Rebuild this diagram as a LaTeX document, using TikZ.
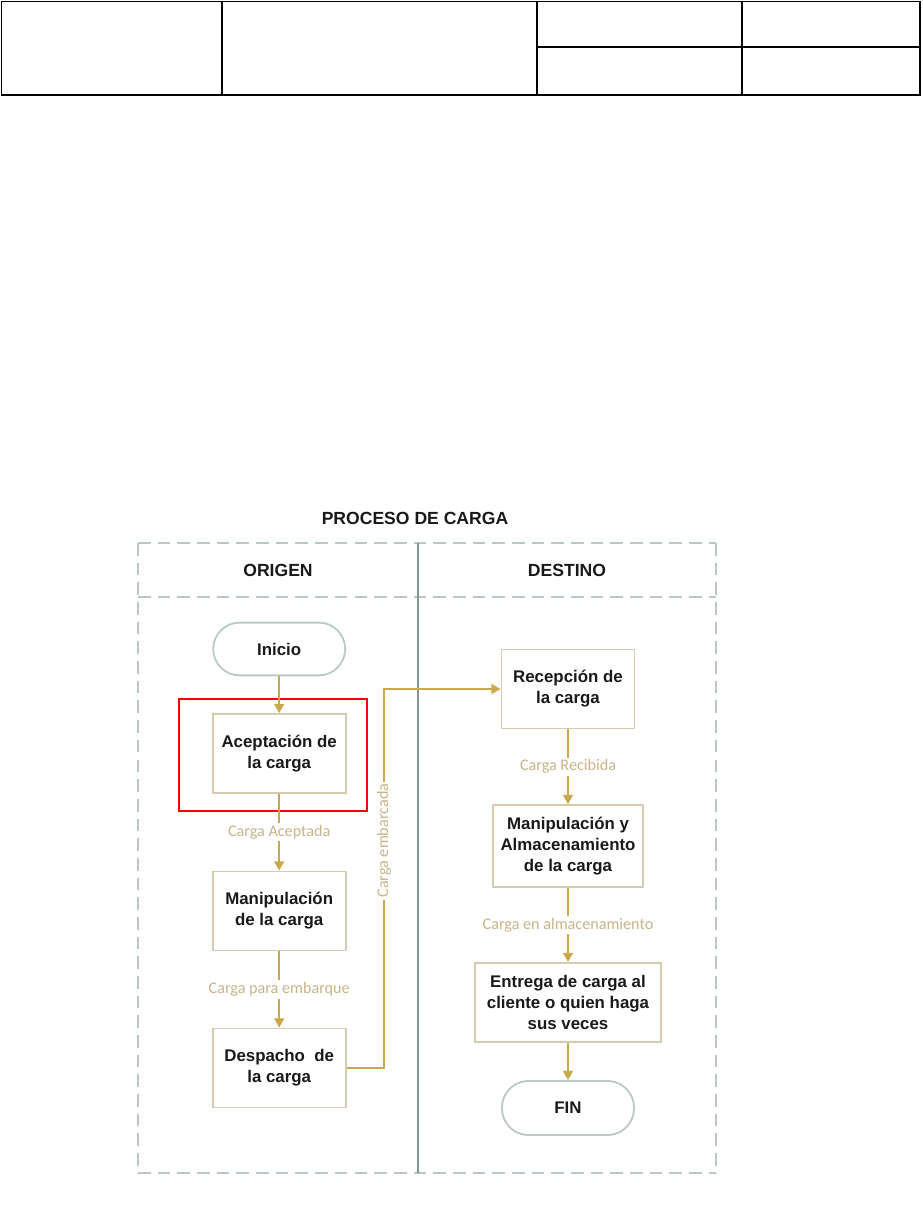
\documentclass[tikz,border=0pt]{standalone}
\usepackage{fontspec}
\setmainfont{Liberation Sans}
\newfontfamily\lblfont{Carlito}
\usepackage{tikz}
\usetikzlibrary{arrows.meta,positioning,calc}

\definecolor{flowgold}{RGB}{201,169,76}
\definecolor{lbltan}{RGB}{200,180,138}
\definecolor{boxtan}{RGB}{214,203,172}
\definecolor{lanegray}{RGB}{184,200,196}
\definecolor{divgray}{RGB}{128,150,144}
\definecolor{termgray}{RGB}{186,202,198}

\begin{document}
\begin{tikzpicture}[
  font=\rmfamily,
  line cap=butt, line join=miter,
  >={Triangle[length=6.5pt,width=7pt]},
  proc/.style={
    rectangle, draw=boxtan, line width=1.3pt,
    minimum width=3.325cm, minimum height=1.975cm,
    align=center, inner sep=2pt,
    font=\rmfamily\bfseries\fontsize{12}{15}\selectfont, text=black!90
  },
  term/.style={
    rectangle, rounded corners=0.66cm, draw=termgray, line width=1.3pt,
    minimum width=3.3cm, minimum height=1.32cm,
    align=center, font=\rmfamily\bfseries\fontsize{12}{15}\selectfont, text=black!90
  },
  flow/.style={->, line width=1.3pt, draw=flowgold},
  edgelbl/.style={font=\lblfont\fontsize{11.5}{13}\selectfont, fill=white, inner sep=1.5pt, text=lbltan},
  lanedash/.style={draw=lanegray, line width=1.3pt, dash pattern=on 9pt off 5pt},
  lanehead/.style={font=\rmfamily\bfseries\fontsize{12.5}{15}\selectfont, text=black!90}
]
\useasboundingbox (0,0) rectangle (23.05,-30.2);

% =========================================================================
% Encabezado (tabla vacía)
% =========================================================================
\draw[line width=0.9pt] (0.03,-0.03) rectangle (23.0,-2.375);
\draw[line width=0.9pt] (5.55,-0.03) -- (5.55,-2.375);
\draw[line width=0.9pt] (13.425,-0.03) -- (13.425,-2.375);
\draw[line width=0.9pt] (18.55,-0.03) -- (18.55,-2.375);
\draw[line width=0.9pt] (13.425,-1.175) -- (23.0,-1.175);

% =========================================================================
% Piscina y carriles
% =========================================================================
\node[lanehead] (titulo) at (10.375,-12.95) {PROCESO DE CARGA};

\draw[lanedash] (3.45,-13.575) -- (17.9,-13.575);
\draw[lanedash] (3.45,-14.925) -- (17.9,-14.925);
\draw[lanedash] (3.45,-13.575) -- (3.45,-29.325);
\draw[lanedash] (17.9,-13.575) -- (17.9,-29.325);
\draw[lanedash] (3.45,-29.325) -- (17.9,-29.325);
\draw[draw=divgray, line width=0.8pt] (10.45,-13.575) -- (10.45,-29.325);

\node[lanehead] (origen)  at (6.95,-14.25)   {ORIGEN};
\node[lanehead] (destino) at (14.175,-14.25) {DESTINO};

% =========================================================================
% Carril ORIGEN
% =========================================================================
\node[term] (inicio)     at (6.98,-16.225) {Inicio};
\node[proc] (aceptacion) at (6.98,-18.84)  {Aceptación de\\la carga};
\node[proc] (manipula)   at (6.98,-22.775) {Manipulación\\de la carga};
\node[proc] (despacho)   at (6.98,-26.7)   {Despacho\ \ de\\la carga};

% resaltado
\draw[red, line width=1.8pt] (4.475,-17.475) rectangle (9.175,-20.275);

% =========================================================================
% Carril DESTINO
% =========================================================================
\node[proc] (recepcion) at (14.2,-17.225) {Recepción de\\la carga};
\node[proc, minimum width=3.75cm, minimum height=2.05cm] (almacena) at (14.2,-21.15)
  {Manipulación y\\Almacenamiento\\de la carga};
\node[proc, minimum width=4.65cm] (entrega) at (14.2,-25.06)
  {Entrega de carga al\\cliente o quien haga\\sus veces};
\node[term, minimum height=1.35cm] (fin) at (14.2,-27.7) {FIN};

% =========================================================================
% Flujos
% =========================================================================
\draw[flow] (inicio) -- (aceptacion);
\draw[flow] (aceptacion) -- node[edgelbl, pos=0.5] {Carga Aceptada} (manipula);
\draw[flow] (manipula) -- node[edgelbl, pos=0.5] {Carga para embarque} (despacho);

\coordinate (codo) at (9.6,-17.225);
\draw[flow] (despacho.east) -| node[edgelbl, pos=0.8, rotate=90] {Carga embarcada} (codo) -- (recepcion.west);

\draw[flow] (recepcion) -- node[edgelbl, pos=0.5] {Carga Recibida} (almacena);
\draw[flow] (almacena) -- node[edgelbl, pos=0.5] {Carga en almacenamiento} (entrega);
\draw[flow] (entrega) -- (fin);

\end{tikzpicture}
\end{document}
